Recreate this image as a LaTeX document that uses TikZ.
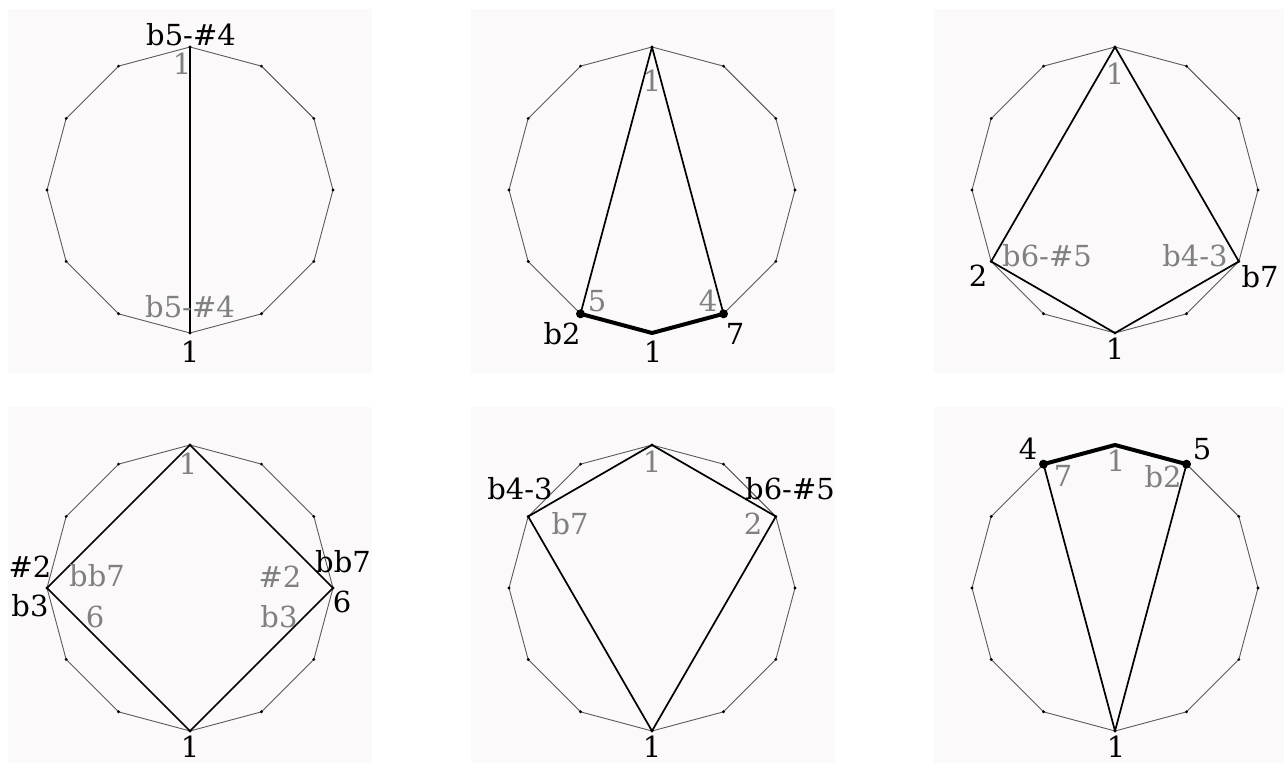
\documentclass[tikz,border=0pt]{standalone}
\usepackage{fontspec}
\setmainfont{DejaVu Serif}
\usepackage{tikz}
\definecolor{panelbg}{RGB}{251,249,250}
\definecolor{labgrey}{RGB}{128,128,128}
\definecolor{polyline}{RGB}{90,90,90}
\tikzset{
  panel/.style={fill=panelbg, draw=none},
  polyedge/.style={draw=polyline, line width=0.45pt, line join=round},
  chord/.style={draw=black, line width=0.85pt, line join=round},
  heavy/.style={draw=black, line width=2pt, line join=round, line cap=round},
  lab/.style={inner sep=0pt, anchor=base, font=\fontsize{14.5}{17}\selectfont, text=black},
  glab/.style={lab, text=labgrey},
}
\newcommand{\dodeca}[2]{% #1 = name prefix, #2 = centre
  \foreach \k in {0,...,11}{\coordinate (#1\k) at ([shift={(#2)}]{90-30*\k}:143);}
  \draw[polyedge] (#10) \foreach \k in {1,...,11}{ -- (#1\k)} -- cycle;
  \foreach \k in {0,...,11}{\fill (#1\k) circle[radius=1.6];}
}
\begin{document}
\begin{tikzpicture}[x=0.5pt,y=0.5pt]
\useasboundingbox (0,0) rectangle (1284,763);
\fill[white] (0,0) rectangle (1284,763);
% panels
\fill[panel] (8,390) rectangle (372,754);
\fill[panel] (471,390) rectangle (835,754);
\fill[panel] (934,390) rectangle (1284,754);
\fill[panel] (8,0) rectangle (372,356);
\fill[panel] (471,0) rectangle (835,356);
\fill[panel] (934,0) rectangle (1284,356);
% centres
\coordinate (ca) at (190,573);
\coordinate (cb) at (652,573);
\coordinate (cc) at (1115,573);
\coordinate (cd) at (190,175);
\coordinate (ce) at (652,175);
\coordinate (cf) at (1115,175);
\dodeca{a}{ca}
\dodeca{b}{cb}
\dodeca{c}{cc}
\dodeca{d}{cd}
\dodeca{e}{ce}
\dodeca{f}{cf}
% panel 1
\draw[chord] (a0) -- (a6);
\node[lab]  (a-top) at (191,717) {b5-\#4};
\node[glab] (a-one) at (182,688) {1};
\node[glab] (a-low) at (190,445) {b5-\#4};
\node[lab]  (a-bot) at (190,400) {1};
% panel 2
\draw[chord] (b7) -- (b0) -- (b5);
\draw[heavy] (b7) -- (b6) -- (b5);
\fill (b7) circle[radius=4.5];
\fill (b5) circle[radius=4.5];
\node[glab] (b-one) at (652,671) {1};
\node[glab] (b-five) at (597,451) {5};
\node[glab] (b-four) at (708,451) {4};
\node[lab]  (b-btwo) at (562,418) {b2};
\node[lab]  (b-bot) at (653,400) {1};
\node[lab]  (b-seven) at (735,418) {7};
% panel 3
\draw[chord] (c8) -- (c0) -- (c4);
\draw[chord] (c8) -- (c6) -- (c4);
\node[glab] (c-one) at (1115,678) {1};
\node[glab] (c-six) at (1047,496) {b6-\#5};
\node[glab] (c-four) at (1195,496) {b4-3};
\node[lab]  (c-two) at (978,476) {2};
\node[lab]  (c-bseven) at (1260,475) {b7};
\node[lab]  (c-bot) at (1115,403) {1};
% panel 4
\draw[chord] (d0) -- (d9) -- (d6) -- (d3) -- cycle;
\node[glab] (d-one) at (188,288) {1};
\node[lab]  (d-shtwo) at (30,185) {\#2};
\node[lab]  (d-bthree) at (30,146) {b3};
\node[glab] (d-bbseven) at (97,176) {bb7};
\node[glab] (d-six) at (95,135) {6};
\node[glab] (d-gshtwo) at (280,175) {\#2};
\node[glab] (d-gbthree) at (279,135) {b3};
\node[lab]  (d-rbb) at (343,190) {bb7};
\node[lab]  (d-rsix) at (342,150) {6};
\node[lab]  (d-bot) at (190,5) {1};
% panel 5
\draw[chord] (e10) -- (e0) -- (e2);
\draw[chord] (e10) -- (e6) -- (e2);
\node[glab] (e-one) at (652,290) {1};
\node[lab]  (e-bfour) at (520,263) {b4-3};
\node[lab]  (e-bsix) at (790,263) {b6-\#5};
\node[glab] (e-bseven) at (570,228) {b7};
\node[glab] (e-two) at (753,228) {2};
\node[lab]  (e-bot) at (652,5) {1};
% panel 6
\draw[chord] (f11) -- (f6) -- (f1);
\draw[heavy] (f11) -- (f0) -- (f1);
\fill (f11) circle[radius=4.5];
\fill (f1) circle[radius=4.5];
\node[lab]  (f-four) at (1028,303) {4};
\node[lab]  (f-five) at (1202,303) {5};
\node[glab] (f-one) at (1116,291) {1};
\node[glab] (f-seven) at (1063,276) {7};
\node[glab] (f-btwo) at (1163,275) {b2};
\node[lab]  (f-bot) at (1116,5) {1};
\end{tikzpicture}
\end{document}
